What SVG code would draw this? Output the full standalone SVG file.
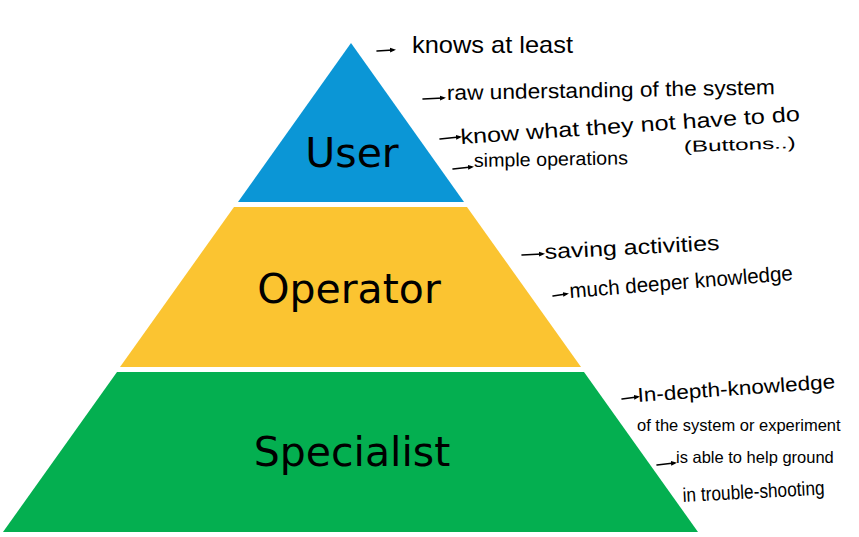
<svg xmlns="http://www.w3.org/2000/svg" width="859" height="537" viewBox="0 0 859 537">
<defs>
<marker id="dot" viewBox="0 0 10 10" refX="5" refY="5" markerWidth="6" markerHeight="6" orient="auto" markerUnits="userSpaceOnUse">
<path d="M0,1 L10,5 L0,9 Z" fill="#000"/>
</marker>
<style>
.lvl{font-family:"DejaVu Sans","Verdana",sans-serif;font-size:41px;fill:#000;text-anchor:middle}
.hw{font-family:"Liberation Sans","Arial",sans-serif;fill:#000}
.arr{stroke:#000;stroke-width:1.6;fill:none;stroke-linecap:round;marker-end:url(#dot)}
</style>
</defs>
<rect width="859" height="537" fill="#fff"/>
<g id="user">
<polygon points="351,43 464,202 238,202" fill="#0B96D6"/>
<text class="lvl" x="352" y="167">User</text>
</g>
<g id="operator">
<polygon points="234,207 467,207 581,367 120,367" fill="#FBC431"/>
<text class="lvl" x="349" y="303">Operator</text>
</g>
<g id="specialist">
<polygon points="117,372 584,372 698,532 3,532" fill="#04AF50"/>
<text class="lvl" x="352" y="466">Specialist</text>
</g>
<g id="connectors">
<line class="arr" x1="377" y1="51" x2="393" y2="50"/>
<line class="arr" x1="423" y1="99" x2="443" y2="98"/>
<line class="arr" x1="440" y1="139" x2="459" y2="137"/>
<line class="arr" x1="453" y1="169" x2="471" y2="167"/>
<line class="arr" x1="522" y1="255" x2="542" y2="254"/>
<line class="arr" x1="553" y1="296" x2="566" y2="294"/>
<line class="arr" x1="622" y1="399" x2="637" y2="397"/>
<line class="arr" x1="657" y1="465" x2="674" y2="463"/>
</g>
<g id="notes">
<text class="hw" x="412" y="53" style="font-size:24px" textLength="161" lengthAdjust="spacingAndGlyphs">knows at least</text>
<text class="hw" x="447" y="100" style="font-size:21px" textLength="328" lengthAdjust="spacingAndGlyphs" transform="rotate(-1 447 100)">raw understanding of the system</text>
<text class="hw" x="461" y="144" style="font-size:21px" textLength="340" lengthAdjust="spacingAndGlyphs" transform="rotate(-3.9 461 144)">know what they not have to do</text>
<text class="hw" x="684" y="152" style="font-size:16px" textLength="112" lengthAdjust="spacingAndGlyphs" transform="rotate(-2 684 152)">(Buttons..)</text>
<text class="hw" x="474" y="167" style="font-size:19px" textLength="154" lengthAdjust="spacingAndGlyphs" transform="rotate(-1 474 167)">simple operations</text>
<text class="hw" x="545" y="259" style="font-size:21px" textLength="175" lengthAdjust="spacingAndGlyphs" transform="rotate(-3 545 259)">saving activities</text>
<text class="hw" x="570" y="298" style="font-size:21px" textLength="224" lengthAdjust="spacingAndGlyphs" transform="rotate(-4.6 570 298)">much deeper knowledge</text>
<text class="hw" x="638" y="402" style="font-size:20px" textLength="198" lengthAdjust="spacingAndGlyphs" transform="rotate(-4 638 402)">In-depth-knowledge</text>
<text class="hw" x="637" y="431" style="font-size:16.5px">of the system or experiment</text>
<text class="hw" x="676" y="463" style="font-size:16.5px">is able to help ground</text>
<text class="hw" x="683" y="502" style="font-size:20px" textLength="142" lengthAdjust="spacingAndGlyphs" transform="rotate(-3 683 502)">in trouble-shooting</text>
</g>
</svg>
